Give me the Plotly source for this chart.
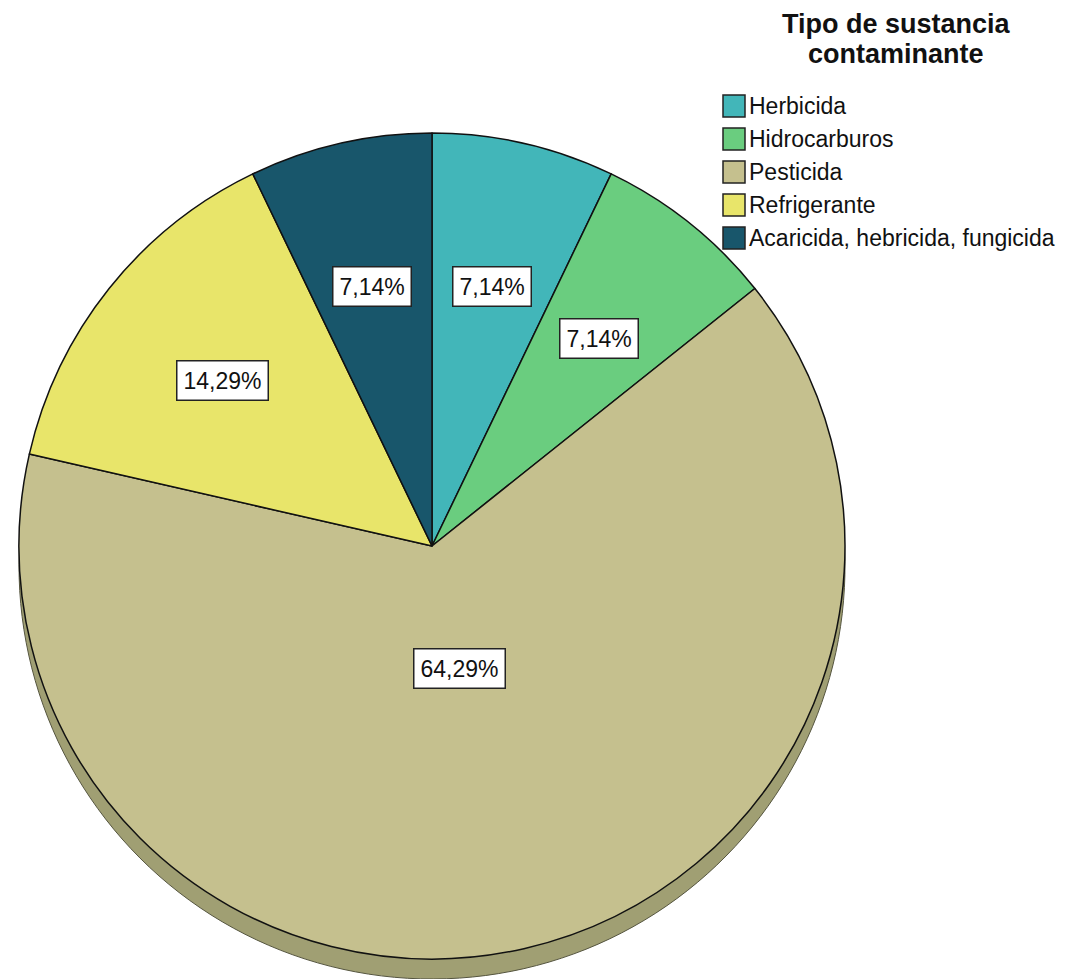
import math
import plotly.graph_objects as go

# Data: frequency of each type of contaminant substance
categories = ["Herbicida", "Hidrocarburos", "Pesticida", "Refrigerante",
              "Acaricida, hebricida, fungicida"]
counts = [1, 1, 9, 2, 1]
colors = ["#42b6b9", "#6acd7f", "#c5c08e", "#e8e56a", "#18566b"]
rim_colors = ["#2e8082", "#4a9059", "#a09f73", "#a2a04a", "#113c4b"]
legend_title = ["Tipo de sustancia", "contaminante"]

W, H = 1065, 979
CX, CY, R = 432, 546, 413      # pie centre and radius in pixels
RIM = 20                        # depth of the 3-D rim in pixels


def dom(cx, cy, r):
    return dict(x=[(cx - r) / W, (cx + r) / W],
                y=[max(0.0, 1 - (cy + r) / H), 1 - (cy - r) / H])


fig = go.Figure()

# darker copy drawn lower to give the pie its thickness
fig.add_trace(go.Pie(
    labels=categories, values=counts, sort=False, direction="clockwise",
    rotation=0, textinfo="none", hoverinfo="skip", showlegend=False,
    marker=dict(colors=rim_colors, line=dict(color="#55553f", width=1)),
    domain=dom(CX, CY + RIM, R),
))

fig.add_trace(go.Pie(
    labels=categories, values=counts, sort=False, direction="clockwise",
    rotation=0, textinfo="none", showlegend=False,
    marker=dict(colors=colors, line=dict(color="#111111", width=1.5)),
    domain=dom(CX, CY, R),
))

# percentage labels in white boxes, placed along each slice's mid angle
total = sum(counts)
annotations = []
cum = 0
for cat, v in zip(categories, counts):
    frac = v / total
    mid = (cum + frac / 2) * 2 * math.pi
    cum += frac
    rr = 0.30 * R if frac > 0.5 else 0.65 * R
    px = CX + rr * math.sin(mid)
    py = CY + 2 - rr * math.cos(mid)
    annotations.append(dict(
        x=px / W, y=1 - py / H, xref="paper", yref="paper",
        text=f"{frac * 100:.2f}%".replace(".", ","), showarrow=False,
        font=dict(family="Liberation Sans, Arial", size=23, color="#111111"),
        bgcolor="white", bordercolor="#222222", borderwidth=1.5, borderpad=6,
        xanchor="center", yanchor="middle",
    ))

# legend title
for i, line in enumerate(legend_title):
    annotations.append(dict(
        x=896 / W, y=1 - (24 + 30 * i) / H, xref="paper", yref="paper",
        text=f"<b>{line}</b>", showarrow=False,
        font=dict(family="Liberation Sans, Arial", size=27, color="#111111"),
        xanchor="center", yanchor="middle",
    ))

# legend entries: coloured square + label
shapes = []
for i, (cat, col) in enumerate(zip(categories, colors)):
    yc = 106 + 33 * i
    shapes.append(dict(
        type="rect", xref="paper", yref="paper",
        x0=723 / W, x1=745 / W, y0=1 - (yc + 11) / H, y1=1 - (yc - 11) / H,
        fillcolor=col, line=dict(color="#222222", width=1.5),
    ))
    annotations.append(dict(
        x=747 / W, y=1 - yc / H, xref="paper", yref="paper",
        text=cat, showarrow=False,
        font=dict(family="Liberation Sans, Arial", size=23, color="#111111"),
        xanchor="left", yanchor="middle",
    ))

fig.update_layout(
    width=W, height=H,
    margin=dict(l=0, r=0, t=0, b=0),
    paper_bgcolor="white", plot_bgcolor="white",
    annotations=annotations, shapes=shapes,
    showlegend=False,
)

fig.write_html("out.html")
